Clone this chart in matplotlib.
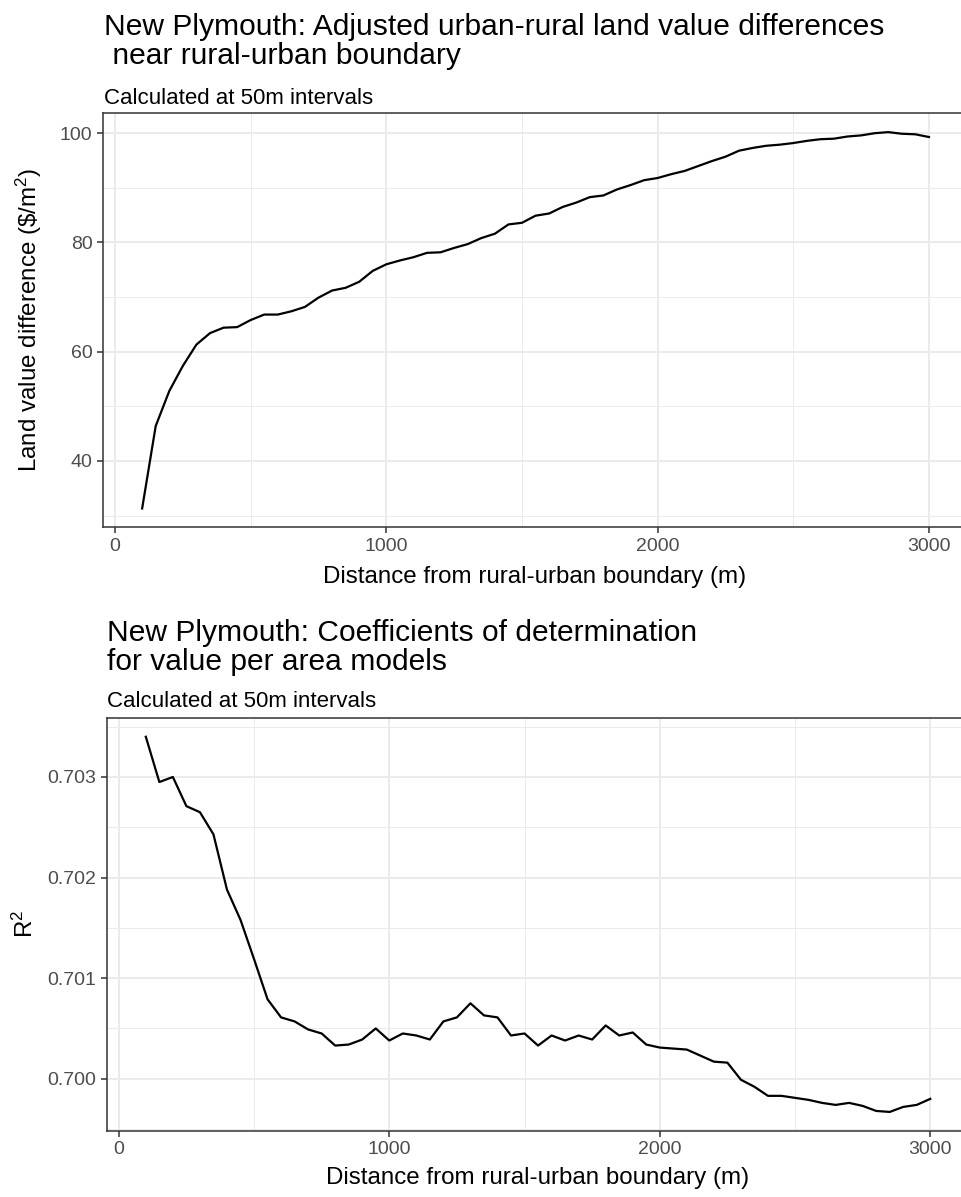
"""Land value gradient and model fit near the New Plymouth rural-urban boundary."""

import numpy as np
import matplotlib
matplotlib.use("Agg")
import matplotlib.pyplot as plt
from matplotlib.ticker import MultipleLocator, FormatStrFormatter

plt.rcParams['font.family'] = ['Liberation Sans', 'DejaVu Sans']
plt.rcParams['mathtext.fontset'] = 'custom'
plt.rcParams['mathtext.rm'] = 'Liberation Sans'
plt.rcParams['mathtext.it'] = 'Liberation Sans:italic'

# distance from boundary (m), sampled every 50m
distance = list(range(100, 3001, 50))

# adjusted urban-rural land value difference ($/m2)
value_diff = [31.3, 46.4, 52.8, 57.4, 61.3, 63.4, 64.4, 64.5, 65.8, 66.8,
              66.8, 67.4, 68.2, 69.9, 71.2, 71.7, 72.8, 74.8, 76.0, 76.7,
              77.3, 78.1, 78.2, 79.0, 79.7, 80.8, 81.6, 83.3, 83.6, 84.9,
              85.3, 86.5, 87.3, 88.3, 88.6, 89.7, 90.5, 91.4, 91.8, 92.5,
              93.1, 94.0, 94.9, 95.7, 96.8, 97.3, 97.7, 97.9, 98.2, 98.6,
              98.9, 99.0, 99.4, 99.6, 100.0, 100.2, 99.9, 99.8, 99.3]

# R^2 of the value-per-area models
r_squared = [0.70340, 0.70295, 0.70300, 0.70271, 0.70265, 0.70243, 0.70188,
             0.70158, 0.70119, 0.70079, 0.70061, 0.70057, 0.70049, 0.70045,
             0.70033, 0.70034, 0.70039, 0.70050, 0.70038, 0.70045, 0.70043,
             0.70039, 0.70057, 0.70061, 0.70075, 0.70063, 0.70061, 0.70043,
             0.70045, 0.70033, 0.70043, 0.70038, 0.70043, 0.70039, 0.70053,
             0.70043, 0.70046, 0.70034, 0.70031, 0.70030, 0.70029, 0.70023,
             0.70017, 0.70016, 0.69999, 0.69992, 0.69983, 0.69983, 0.69981,
             0.69979, 0.69976, 0.69974, 0.69976, 0.69973, 0.69968, 0.69967,
             0.69972, 0.69974, 0.69980]

x_ticks = [0, 1000, 2000, 3000]
top_y_ticks = [40, 60, 80, 100]
bottom_y_ticks = [0.700, 0.701, 0.702, 0.703]

W, H = 962, 1197
GRID = '#ebebeb'
DARK = '#333333'
TICKLAB = '#4d4d4d'


def expand(vals, mult=0.05):
    """ggplot-style continuous scale expansion"""
    lo, hi = min(vals), max(vals)
    pad = (hi - lo) * mult
    return lo - pad, hi + pad


def px_axes(fig, left, top, right, bottom):
    """Add axes from pixel edges (origin top-left)"""
    return fig.add_axes([left / W, 1 - bottom / H, (right - left) / W, (bottom - top) / H])


def style_panel(ax, yticks, ymajor, yminor, yfmt):
    ax.set_xlim(*expand(distance))
    ax.set_xticks(x_ticks)
    ax.xaxis.set_minor_locator(MultipleLocator(500))
    ax.set_yticks(yticks)
    ax.yaxis.set_major_locator(MultipleLocator(ymajor))
    ax.yaxis.set_minor_locator(MultipleLocator(yminor))
    ax.yaxis.set_major_formatter(FormatStrFormatter(yfmt))
    ax.grid(which='major', color=GRID, lw=1.4, zorder=0)
    ax.grid(which='minor', color=GRID, lw=0.7, zorder=0)
    ax.set_axisbelow(True)
    for sp in ax.spines.values():
        sp.set_color(DARK)
        sp.set_linewidth(1.1)
    ax.tick_params(which='major', direction='out', length=4.5, width=1.1,
                   color=DARK, labelcolor=TICKLAB, labelsize=14, pad=3)
    ax.tick_params(which='minor', length=0)


fig = plt.figure(figsize=(W / 100, H / 100), dpi=100)

### Top panel: land value differences
ax1 = px_axes(fig, 102.8, 113.3, 968.3, 527.3)
ax1.plot(distance, value_diff, color='k', lw=1.6)
ax1.set_ylim(*expand(value_diff))
style_panel(ax1, top_y_ticks, 20, 10, '%d')
ax1.set_xlabel("Distance from rural-urban boundary (m)", fontsize=17.4)
ax1.xaxis.set_label_coords(535 / W, 1 - 577 / H, transform=fig.transFigure)
ax1.xaxis.label.set_va('center')
ax1.set_ylabel(r"Land value difference (\$/m$^{2}$)", fontsize=17.4)
ax1.yaxis.set_label_coords(29 / W, 1 - 320 / H, transform=fig.transFigure)
ax1.yaxis.label.set_va('center')

fig.text(104 / W, 1 - 13 / H,
         "New Plymouth: Adjusted urban-rural land value differences\n near rural-urban boundary",
         fontsize=21.6, va='top', ha='left', linespacing=1.06)
fig.text(104 / W, 1 - 104 / H, "Calculated at 50m intervals",
         fontsize=16, va='baseline', ha='left')

### Bottom panel: coefficients of determination
ax2 = px_axes(fig, 106.6, 718.0, 969.5, 1130.7)
ax2.plot(distance, r_squared, color='k', lw=1.6)
ax2.set_ylim(*expand(r_squared))
style_panel(ax2, bottom_y_ticks, 0.001, 0.0005, '%.3f')
ax2.set_xlabel("Distance from rural-urban boundary (m)", fontsize=17.4)
ax2.xaxis.set_label_coords(538 / W, 1 - 1178 / H, transform=fig.transFigure)
ax2.xaxis.label.set_va('center')
ax2.set_ylabel(r"R$^{2}$", fontsize=17.4)
ax2.yaxis.set_label_coords(25 / W, 1 - 924 / H, transform=fig.transFigure)
ax2.yaxis.label.set_va('center')

fig.text(107 / W, 1 - 619 / H,
         "New Plymouth: Coefficients of determination\nfor value per area models",
         fontsize=21.6, va='top', ha='left', linespacing=1.06)
fig.text(107 / W, 1 - 707 / H, "Calculated at 50m intervals",
         fontsize=16, va='baseline', ha='left')

fig.savefig("out.png", dpi=100)
